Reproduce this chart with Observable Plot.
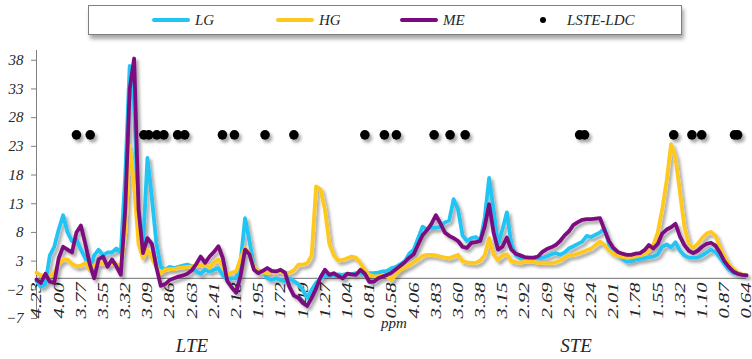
<!DOCTYPE html>
<html>
<head>
<meta charset="utf-8">
<script src="https://cdn.jsdelivr.net/npm/d3@7"></script>
<script src="https://cdn.jsdelivr.net/npm/@observablehq/plot@0.6"></script>
<style>
  html, body { margin: 0; padding: 0; background: #fff; }
  #wrap { position: relative; width: 752px; height: 359px; overflow: hidden;
          font-family: "Liberation Serif", "Times New Roman", serif; font-style: italic; color: #262626; }
  #legend { position: absolute; left: 88px; top: 5px; width: 594px; height: 30px; box-sizing: border-box;
            border: 1px solid #7f7f7f; background: #fff; box-shadow: 2px 4px 4px rgba(0,0,0,0.35);
            display: flex; align-items: center; padding-left: 63px; z-index: 2; }
  .item { width: 124px; display: flex; align-items: center; font-size: 15px; }
  .sw { width: 38px; height: 4px; border-radius: 2px; margin-right: 5px; }
  .swdot { width: 38px; height: 6px; margin-right: 5px; display: flex; justify-content: center; }
  .swdot span { width: 6px; height: 6px; border-radius: 3px; background: #000; }
  .note { position: absolute; transform: translate(-50%, -50%); white-space: nowrap; }
  #chart { position: absolute; left: 0; top: 0; }
</style>
</head>
<body>
<div id="wrap">
  <div id="chart"></div>
  <div id="legend"></div>
  <div class="note" style="left:192px; top:346px; font-size:19px;">LTE</div>
  <div class="note" style="left:394px; top:323px; font-size:15px;">ppm</div>
  <div class="note" style="left:576px; top:346px; font-size:19px;">STE</div>
</div>
<script>
// x tick labels (ppm), one every 5 samples; LTE block followed by STE block
const ppmTicks = ["4.23","4.00","3.77","3.55","3.32","3.09","2.86","2.63","2.41","2.18","1.95","1.72","1.49","1.27","1.04","0.81","0.58",
                  "4.06","3.83","3.60","3.38","3.15","2.92","2.69","2.46","2.24","2.01","1.78","1.55","1.32","1.10","0.87","0.64"];
const samplesPerTick = 5;
const yTicks = [-7, -2, 3, 8, 13, 18, 23, 28, 33, 38];

const LG = [
  -0.5, -1.5, -1.0, 4.0, 5.5, 8.5, 11.0, 8.0, 6.5, 6.8,
  5.0, 3.5, 1.5, 4.0, 5.0, 4.0, 4.5, 4.5, 5.2, 4.5,
  18.0, 37.0, 30.0, 10.0, 5.5, 21.0, 14.0, 6.2, 2.0, 1.5,
  2.0, 1.8, 2.0, 2.2, 2.4, 2.1, 1.2, 0.8, 1.5, 1.2,
  1.5, 1.8, 0.5, -0.3, 0.0, 0.0, 3.0, 10.5, 6.5, 2.0,
  1.3, 1.2, 0.0, -0.3, 0.0, -0.3, -0.5, 0.0, -0.5, -1.0,
  -2.0, -3.4, -2.0, -0.8, 0.0, 0.5, 0.6, 0.5, 0.7, 0.6,
  0.8, 0.7, 0.9, 0.8, 0.7, 0.9, 0.9, 1.0, 1.2, 1.3,
  1.8, 2.0, 2.5, 3.0, 4.3, 5.0, 7.0, 9.0, 8.5, 8.8,
  8.8, 9.0, 9.7, 10.1, 13.8, 12.0, 7.5, 6.5, 7.0, 7.2,
  6.5, 10.5, 17.5, 12.0, 5.8, 8.5, 11.5, 6.0, 4.0, 3.5,
  3.3, 3.3, 3.4, 3.5, 3.6, 3.8, 4.2, 4.4, 4.1, 4.5,
  5.2, 5.6, 6.0, 6.4, 7.4, 7.2, 7.6, 8.0, 8.7, 6.0,
  4.8, 4.0, 3.4, 2.9, 3.0, 3.3, 3.4, 3.5, 3.7, 3.8,
  4.2, 5.5, 5.9, 5.4, 6.3, 4.8, 4.0, 3.6, 3.6, 3.6,
  4.0, 4.5, 5.0, 4.6, 3.6, 2.5, 1.5, 1.0, 0.8, 0.6,
  0.6
];
const HG = [
  1.0, 0.5, 0.4, 0.3, 1.0, 2.5, 3.3, 3.3, 2.5, 2.1,
  2.2, 2.7, 1.5, 2.3, 2.5, 2.6, 2.4, 2.6, 2.5, 2.2,
  8.0, 23.0, 16.0, 6.0, 3.5, 5.0, 3.5, 2.0, 0.9, 1.5,
  1.6, 1.6, 1.8, 1.9, 2.0, 2.1, 2.3, 2.2, 2.4, 1.8,
  2.8, 3.3, 2.0, 0.6, 1.0, 1.2, 3.5, 5.3, 4.3, 2.0,
  1.3, 1.0, 0.9, 1.1, 1.0, 1.2, 0.9, 1.0, 1.4, 2.4,
  2.4, 2.6, 4.0, 16.0, 15.5, 12.0, 6.0, 4.0, 3.1, 3.2,
  3.5, 3.8, 3.6, 2.6, 1.5, 0.6, 0.4, 0.3, 0.5, 0.4,
  -0.3, 0.8, 1.5, 1.9, 2.3, 2.8, 3.3, 3.9, 4.1, 4.1,
  4.0, 3.8, 3.6, 3.5, 3.8, 4.1, 3.0, 2.8, 2.7, 2.7,
  3.1, 4.0, 7.0, 4.2, 3.2, 4.0, 4.2, 3.0, 2.8, 2.7,
  2.9, 3.0, 2.9, 2.7, 2.7, 2.7, 2.7, 2.8, 3.1, 3.6,
  4.0, 4.1, 4.3, 4.6, 4.9, 5.2, 5.8, 6.4, 5.8, 4.9,
  4.3, 3.9, 3.7, 3.6, 3.7, 3.8, 4.0, 4.3, 4.8, 5.8,
  8.0, 12.0, 17.0, 23.4, 21.0, 15.0, 9.0, 6.0, 5.3, 6.0,
  7.0, 7.8, 8.1, 7.4, 5.5, 3.8, 2.5, 1.7, 1.0, 0.7,
  0.6
];
const ME = [
  -0.2, -0.8, 0.8, -0.6, -0.8, 3.5, 5.5, 5.0, 4.5, 8.0,
  9.2, 6.0, 2.5, 0.0, 3.3, 3.8, 2.0, 3.3, 2.1, 0.6,
  12.0, 33.0, 38.3, 12.0, 4.4, 7.0, 6.0, 2.0, -1.3, -1.0,
  -0.3, 0.0, 0.3, 0.5, 0.8, 1.4, 2.5, 3.8, 2.7, 3.8,
  4.6, 5.6, 3.5, -0.5, -1.6, -2.5, 0.5, 5.0, 4.2, 1.5,
  0.9, 1.3, 1.8, 1.3, 1.2, 1.5, 1.0, -1.5, -3.0, -3.4,
  -4.3, -4.8, -3.4, -1.8, 0.2, 1.5, 0.6, 0.9, 0.4, 0.0,
  0.8, 0.7, 0.6, 1.5, 0.8, -0.6, -0.6, 0.0, 0.3, 0.6,
  1.0, 1.6, 2.2, 2.8, 3.6, 4.2, 5.9, 7.5, 8.4, 9.5,
  11.0, 9.6, 8.0, 7.4, 7.0, 6.5, 5.5, 5.3, 6.2, 6.3,
  6.5, 9.0, 12.9, 8.0, 5.0, 5.5, 7.1, 5.0, 4.3, 4.0,
  3.7, 3.6, 3.6, 3.8, 4.6, 5.1, 5.4, 5.8, 6.5, 7.5,
  8.2, 9.3, 9.8, 10.2, 10.3, 10.3, 10.4, 10.5, 8.4, 6.5,
  5.3, 4.6, 4.3, 4.1, 4.1, 4.3, 4.4, 4.9, 5.8, 5.2,
  6.0, 7.8, 8.5, 8.9, 9.5, 7.3, 5.8, 4.8, 4.4, 4.8,
  5.5, 6.0, 6.2, 5.7, 4.5, 3.0, 2.0, 1.2, 0.8, 0.6,
  0.5
];
// LSTE-LDC markers: sample positions, drawn at a fixed level
const dotPositions = [9.0, 12.1, 24.2, 25.3, 27.1, 28.7, 31.8, 33.4, 41.9, 44.6, 51.5, 58.0,
                      74.0, 78.4, 81.1, 89.6, 93.2, 96.6, 122.4, 123.5, 143.6, 147.7, 149.9, 157.3, 158.0];
const dotLevel = 25;

const seriesNames = ["LG", "HG", "ME"];
const seriesColors = ["#20c4f4", "#ffc81e", "#7b0a7e"];
const markerName = "LSTE-LDC";

const rows = [];
[LG, HG, ME].forEach((arr, k) => arr.forEach((v, i) => rows.push({i, v, s: seriesNames[k]})));
const tickRows = ppmTicks.map((t, k) => ({i: k * samplesPerTick, t}));

const plot = Plot.plot({
  width: 752,
  height: 359,
  marginTop: 50,
  marginBottom: 41,
  marginLeft: 36,
  marginRight: 6,
  x: {domain: [0, LG.length - 1], axis: null},
  y: {domain: [-7, 39.7], axis: null},
  color: {domain: seriesNames, range: seriesColors},
  style: {fontFamily: "Liberation Serif, serif", background: "transparent", overflow: "visible"},
  marks: [
    Plot.ruleY([0], {stroke: "#8c8c8c", strokeWidth: 1.2}),
    Plot.frame({anchor: "left", stroke: "#808080"}),
    Plot.axisY(yTicks, {tickSize: 5, tickPadding: 8, fontSize: 15, fontStyle: "italic",
                        stroke: "#808080", fill: "#262626", label: null}),
    Plot.text(tickRows, {x: "i", y: 0, text: "t", rotate: -90, textAnchor: "end", dy: 4,
                         fontSize: 15, fontStyle: "italic", fill: "#262626"}),
    Plot.line(rows, {x: "i", y: "v", stroke: "s", z: "s", strokeWidth: 3.8,
                     strokeLinejoin: "round", strokeLinecap: "round"}),
    Plot.dot(dotPositions, {x: d => d, y: dotLevel, r: 4.8, fill: "#000", stroke: "none"})
  ]
});

document.getElementById("chart").appendChild(plot);

// drop shadows like the original
const svg = d3.select(plot);
const defs = svg.insert("defs", ":first-child");
const f = defs.append("filter").attr("id", "shadow")
  .attr("filterUnits", "userSpaceOnUse").attr("x", 0).attr("y", 0).attr("width", 752).attr("height", 359);
f.append("feDropShadow").attr("dx", 2.5).attr("dy", 3).attr("stdDeviation", 1.5)
 .attr("flood-color", "#000").attr("flood-opacity", 0.35);
svg.selectAll('g[aria-label="line"]').attr("filter", "url(#shadow)");
svg.selectAll('g[aria-label="dot"]').attr("filter", "url(#shadow)");
// elongated x tick labels, as in the original
svg.selectAll('g[aria-label="text"] text').each(function () {
  const len = this.getComputedTextLength();
  if (len > 0) {
    this.setAttribute("textLength", (len * 1.38).toFixed(1));
    this.setAttribute("lengthAdjust", "spacingAndGlyphs");
  }
});

// legend
const legend = d3.select("#legend");
seriesNames.forEach((name, k) => {
  const it = legend.append("div").attr("class", "item");
  it.append("div").attr("class", "sw").style("background", seriesColors[k]);
  it.append("span").text(name);
});
const itm = legend.append("div").attr("class", "item");
itm.append("div").attr("class", "swdot").append("span");
itm.append("span").text(markerName);
</script>
</body>
</html>
